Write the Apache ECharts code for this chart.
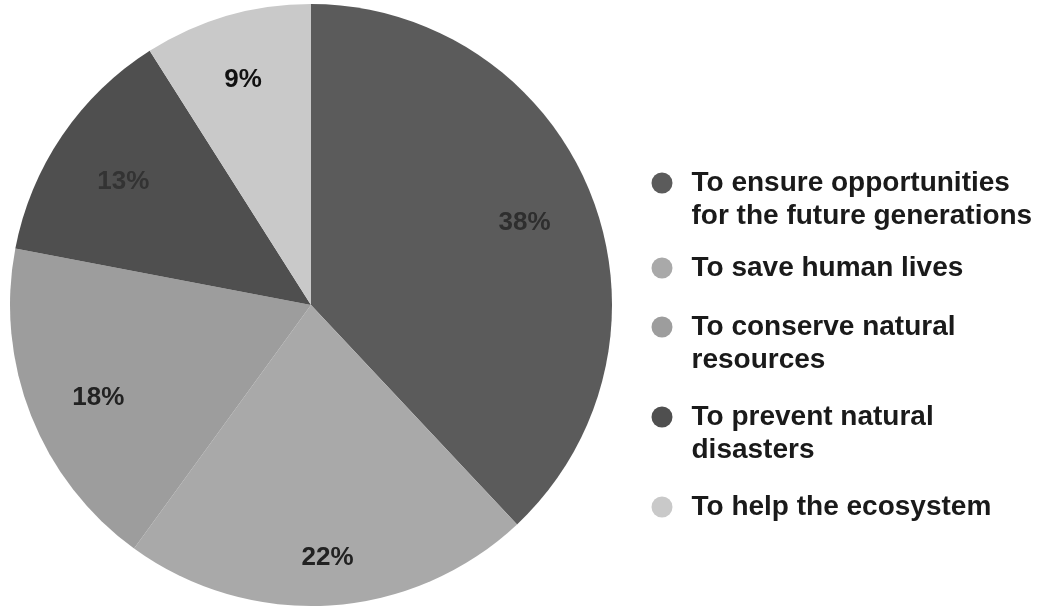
<!DOCTYPE html>
<html>
<head>
<meta charset="utf-8">
<script src="https://cdn.jsdelivr.net/npm/echarts@6/dist/echarts.min.js"></script>
<style>
html,body{margin:0;padding:0;background:#ffffff;}
#chart{width:1045px;height:608px;}
</style>
</head>
<body>
<div id="chart"></div>
<script>
const categories = [
  'To ensure opportunities\nfor the future generations',
  'To save human lives',
  'To conserve natural\nresources',
  'To prevent natural\ndisasters',
  'To help the ecosystem'
];
const values = [38, 22, 18, 13, 9];
const colors = ['#5b5b5b', '#a9a9a9', '#9d9d9d', '#4f4f4f', '#c9c9c9'];
const labelColors = ['#2e2e2e', '#222222', '#222222', '#333333', '#111111'];
const labelOffsets = [[-3, 4], [2, 20], [4, 7], [5, 8], [-3, -1]];
const legendFirstLineY = [183, 268, 327, 417, 507];

const D = 21;        // legend dot diameter
const LH = 33;       // legend line height
const chart = echarts.init(document.getElementById('chart'), null, {renderer: 'canvas'});

const pieData = categories.map((c, i) => ({name: c, value: values[i], itemStyle: {color: colors[i]}}));
const labelData = categories.map((c, i) => ({
  name: c, value: values[i],
  label: {color: labelColors[i], offset: labelOffsets[i]}
}));

const r = D / 2;
const legends = categories.map((c, i) => {
  const lines = c.split('\n').length;
  // dot aligned with first text line: text centre sits (lines-1)*LH/2 below dot centre
  const itemH = lines === 1 ? D : 2 * (r + LH * (lines - 1) / 2);
  const icon = lines === 1 ? 'circle'
    : 'path://M0,' + r + 'A' + r + ',' + r + ',0,1,0,' + D + ',' + r + 'A' + r + ',' + r + ',0,1,0,0,' + r + 'ZM' + r + ',' + itemH;
  return {
    data: [{name: c, icon: icon}],
    left: 662 - r,
    top: legendFirstLineY[i] - LH / 2,
    padding: 0,
    itemWidth: D,
    itemHeight: itemH,
    selectedMode: false,
    textStyle: {
      fontFamily: 'Liberation Sans, Arial, sans-serif',
      fontWeight: 'bold',
      fontSize: 28,
      lineHeight: LH,
      color: '#1a1a1a',
      padding: [0, 0, 0, 14]
    }
  };
});

chart.setOption({
  backgroundColor: '#ffffff',
  animation: false,
  legend: legends,
  series: [
    {
      type: 'pie',
      center: [311, 305],
      radius: [0, 301],
      startAngle: 90,
      clockwise: true,
      silent: true,
      label: {show: false},
      labelLine: {show: false},
      itemStyle: {borderWidth: 0},
      data: pieData
    },
    {
      type: 'pie',
      center: [311, 305],
      radius: [159, 301],
      startAngle: 90,
      clockwise: true,
      silent: true,
      legendHoverLink: false,
      itemStyle: {color: 'rgba(0,0,0,0)', borderWidth: 0},
      label: {
        show: true,
        position: 'inside',
        formatter: p => p.value + '%',
        fontFamily: 'Liberation Sans, Arial, sans-serif',
        fontWeight: 'bold',
        fontSize: 26
      },
      labelLine: {show: false},
      data: labelData
    }
  ]
});
</script>
</body>
</html>
